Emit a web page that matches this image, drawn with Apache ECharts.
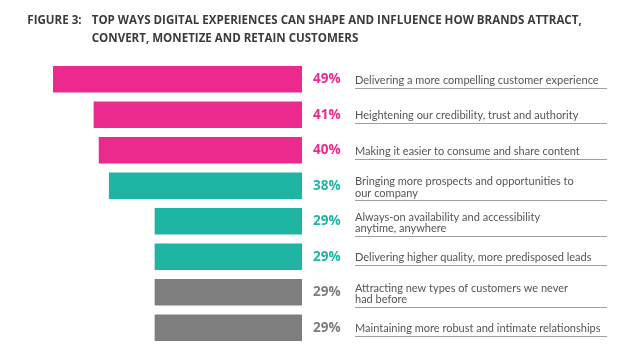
<!DOCTYPE html>
<html>
<head>
<meta charset="utf-8">
<script src="https://cdn.jsdelivr.net/npm/echarts@6/dist/echarts.min.js"></script>
<style>
html,body{margin:0;padding:0;background:#fff;}
#chart{width:622px;height:347px;}
</style>
</head>
<body>
<div id="chart"></div>
<script>
const figureLabel = 'FIGURE 3:';
const titleLines = [
  'TOP WAYS DIGITAL EXPERIENCES CAN SHAPE AND INFLUENCE HOW BRANDS ATTRACT,',
  'CONVERT, MONETIZE AND RETAIN CUSTOMERS'
];
const categories = [
  'Delivering a more compelling customer experience',
  'Heightening our credibility, trust and authority',
  'Making it easier to consume and share content',
  'Bringing more prospects and opportunities to\nour company',
  'Always-on availability and accessibility\nanytime, anywhere',
  'Delivering higher quality, more predisposed leads',
  'Attracting new types of customers we never\nhad before',
  'Maintaining more robust and intimate relationships'
];
const values = [49, 41, 40, 38, 29, 29, 29, 29];
const groups = ['A', 'A', 'A', 'B', 'B', 'B', 'C', 'C'];

const groupColor = { A: '#EC2A8D', B: '#1EB5A3', C: '#7E7E7E' };

const TITLE_FONT = 'bold 13px "Open Sans"';
const cv = document.createElement('canvas').getContext('2d');
cv.font = TITLE_FONT;
const titleScale = 490 / cv.measureText(titleLines[0]).width;

const chart = echarts.init(document.getElementById('chart'));

const barData = values.map((v, i) => ({
  value: v,
  itemStyle: { color: groupColor[groups[i]] },
  label: { color: groupColor[groups[i]] }
}));

const LINE_H = 11.5;

function titleText(str, x, y) {
  return {
    type: 'text', x: x, y: y, scaleX: titleScale, originX: 0, silent: true,
    style: { text: str, font: TITLE_FONT, fill: '#3b3b3b', verticalAlign: 'middle', align: 'left' }
  };
}

chart.setOption({
  animation: false,
  backgroundColor: '#ffffff',
  graphic: [
    titleText(figureLabel, 27.3, 20.5),
    titleText(titleLines[0], 91.7, 20.5),
    titleText(titleLines[1], 91.7, 38)
  ],
  grid: { left: 53, right: 320, top: 61.5, height: 284, containLabel: false },
  xAxis: { type: 'value', inverse: true, min: 0, max: 49, show: false },
  yAxis: { type: 'category', inverse: true, data: categories, show: false },
  series: [
    {
      type: 'bar',
      data: barData,
      barCategoryGap: '25%',
      label: {
        show: true, position: 'right', distance: 11,
        formatter: '{c}%',
        fontFamily: 'Open Sans', fontWeight: 'bold', fontSize: 13.5
      },
      silent: true
    },
    {
      type: 'custom',
      silent: true,
      clip: false,
      data: categories.map((c, i) => [0, i]),
      encode: { x: 0, y: 1 },
      renderItem: function (params, api) {
        const idx = api.value(1);
        const p = api.coord([0, idx]);
        const text = categories[idx];
        const n = text.split('\n').length;
        const x = p[0] + 53;
        const cy = p[1] + 1 + (n - 1) * 0.5;
        const uy = Math.round(cy + n * LINE_H / 2 + 1.5) + 0.5;
        return {
          type: 'group',
          children: [
            {
              type: 'text',
              style: {
                x: x, y: cy, text: text,
                fill: '#555555', fontFamily: 'Lato', fontSize: 11,
                lineHeight: LINE_H, align: 'left', verticalAlign: 'middle'
              }
            },
            {
              type: 'line',
              shape: { x1: x, y1: uy, x2: x + 252, y2: uy },
              style: { stroke: '#a0a0a0', lineWidth: 1 }
            }
          ]
        };
      }
    }
  ]
});
</script>
</body>
</html>
